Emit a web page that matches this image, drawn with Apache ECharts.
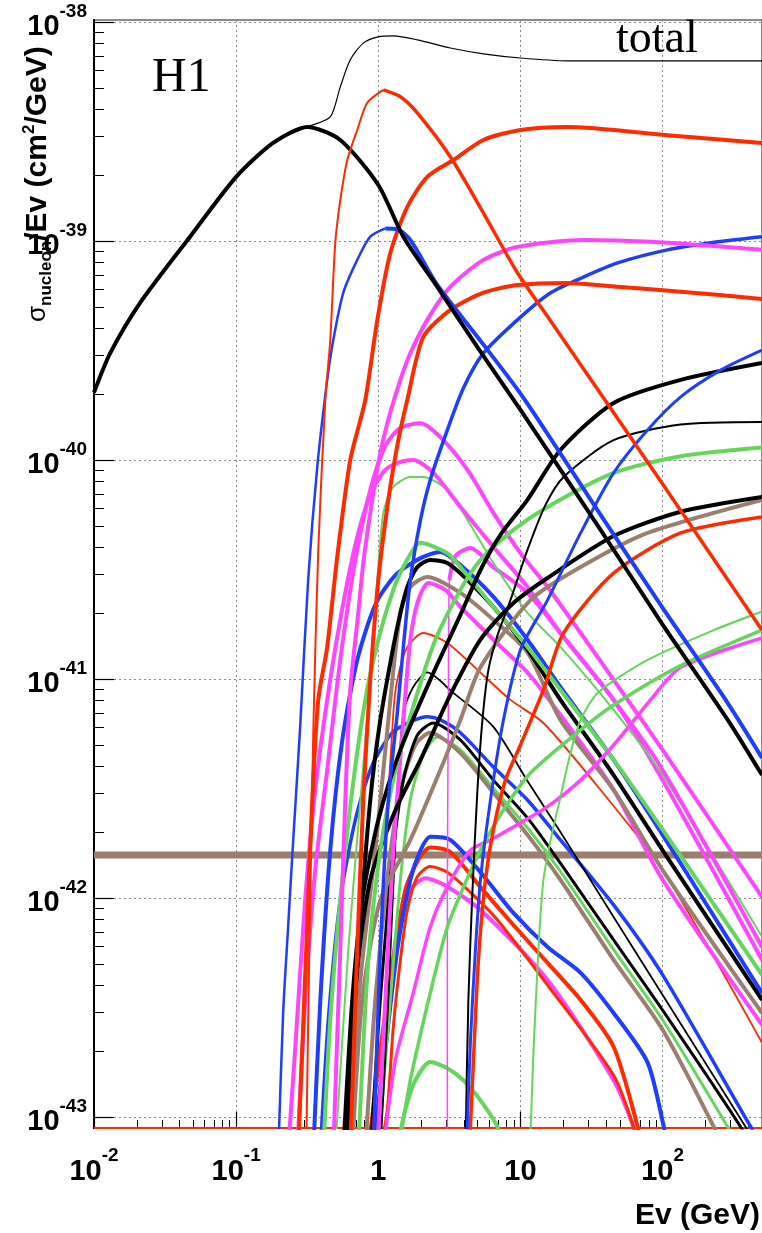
<!DOCTYPE html>
<html><head><meta charset="utf-8">
<script src="https://cdn.jsdelivr.net/npm/echarts@6.0.0/dist/echarts.min.js"></script>
<style>html,body{margin:0;padding:0;background:#fff}#c{width:762px;height:1233px}</style>
</head><body><div id="c"></div>
<script>
// E in GeV, sigma/E in cm^2/GeV
const xTickValues = [0.01, 0.1, 1, 10, 100];
const xTickLabels = ['10|-2', '10|-1', '1', '10', '10|2'];
const yTickExponents = [-38, -39, -40, -41, -42, -43];
const X_MIN = 0.01, X_MAX = 500, Y_MIN = 8.9e-44, Y_MAX = 1.02e-38;

const totalXsec = [[0.01,2.03e-40],[0.013,3.07e-40],[0.0211,5.21e-40],[0.0474,1.045e-39],[0.1,1.96e-39],[0.182,2.80e-39],[0.316,3.31e-39],[0.459,3.68e-39],[0.54,5.05e-39],[0.635,6.71e-39],[0.784,8.0e-39],[1,8.54e-39],[1.275,8.63e-39],[1.88,8.28e-39],[3.21,7.6e-39],[5.49,7.15e-39],[10,6.84e-39],[21.4,6.64e-39],[100,6.64e-39],[500,6.64e-39]];
const qe = [[0.01,2.03e-40],[0.013,3.07e-40],[0.0211,5.21e-40],[0.0474,1.045e-39],[0.1,1.96e-39],[0.182,2.80e-39],[0.316,3.31e-39],[0.54,2.89e-39],[1,1.80e-39],[1.5,1.045e-39],[2.6,6.17e-40],[4.98,3.27e-40],[10,1.69e-40],[36.6,4.79e-41],[100,1.77e-41],[287,6.50e-42],[500,3.64e-42]];
const resRedRise = [[0.311,7e-44],[0.327,5.8e-43],[0.349,5.85e-42],[0.378,3.88e-41],[0.424,1.88e-40],[0.459,3.52e-40],[0.498,9.79e-40],[0.54,1.53e-39],[0.605,2.34e-39],[0.711,3.21e-39],[0.836,4.27e-39],[1.084,4.89e-39]];
const resRedFall = [[1.084,4.89e-39],[1.43,4.55e-39],[1.88,3.84e-39],[3.21,2.42e-39],[5.49,1.34e-39],[9.52,7.15e-40],[16.3,4.31e-40],[27.8,2.60e-40],[100,7.76e-41],[500,1.67e-41]];
const resBlueRise = [[0.198,7e-44],[0.214,2.98e-43],[0.232,7.36e-43],[0.252,1.84e-42],[0.282,6.04e-42],[0.321,2.83e-41],[0.372,9.29e-41],[0.437,2.32e-40],[0.482,3.52e-40],[0.567,5.80e-40],[0.711,8.19e-40],[0.878,1.045e-39],[1.12,1.14e-39]];
const resBlueFall = [[1.12,1.14e-39],[1.36,1.13e-39],[1.68,1.01e-39],[2.60,6.29e-40],[5.49,3.36e-40],[10.5,1.92e-40],[36.6,5.61e-41],[100,2.11e-41],[287,7.76e-42],[500,4.36e-42]];
const disRed1 = [[0.273,7e-44],[0.311,5.80e-43],[0.343,2.80e-42],[0.378,8.02e-42],[0.437,1.40e-41],[0.514,3.60e-41],[0.635,1.0e-40],[0.81,1.88e-40],[0.984,4.36e-40],[1.215,8.81e-40],[1.60,1.43e-39],[2.21,1.96e-39],[3.37,2.34e-39],[5.49,2.89e-39],[10,3.21e-39],[21.4,3.31e-39],[108,3.04e-39],[500,2.80e-39]];
const disMagenta = [[0.482,7e-44],[0.54,5.80e-43],[0.586,2.80e-42],[0.635,8.9e-42],[0.723,2.0e-41],[0.784,3.38e-41],[0.878,5.73e-41],[1,9.69e-41],[1.157,1.47e-40],[1.43,2.32e-40],[1.68,3.07e-40],[2.21,4.36e-40],[3.21,6.17e-40],[5.49,8.19e-40],[9.52,9.39e-40],[27.8,1.01e-39],[82.3,9.9e-40],[500,9.1e-40]];
const disRed2 = [[0.635,7e-44],[0.711,5.80e-43],[0.784,2.80e-42],[0.878,9.9e-42],[1,2.83e-41],[1.176,6.57e-41],[1.383,1.23e-40],[1.60,1.88e-40],[2.07,3.64e-40],[3.21,4.84e-40],[5.49,5.80e-40],[9.52,6.29e-40],[21.4,6.43e-40],[48.2,6.17e-40],[141,5.85e-40],[500,5.43e-40]];
const disBlue1 = [[0.922,7e-44],[1.033,5.8e-43],[1.176,2.8e-42],[1.36,7.0e-42],[1.5,1.40e-41],[1.68,2.83e-41],[1.98,5.32e-41],[2.32,8.1e-41],[3.06,1.37e-40],[3.97,2.13e-40],[5.49,3.07e-40],[9.52,4.36e-40],[16.3,5.80e-40],[27.8,6.84e-40],[48.2,7.93e-40],[108,9.1e-40],[244,9.9e-40],[500,1.045e-39]];
const disBlue2 = [[4.17,7e-44],[4.45,2.25e-43],[4.82,5.8e-43],[5.23,1.21e-42],[6.15,2.8e-42],[7.59,6.50e-42],[10,1.36e-41],[15.5,2.29e-41],[26.5,4.64e-41],[45.2,8.72e-41],[78.4,1.37e-40],[134,1.94e-40],[256,2.57e-40],[500,3.17e-40]];
const disBlack1 = [[0.567,7e-44],[0.656,3.42e-43],[0.771,9.8e-43],[1,2.27e-42],[1.43,4.74e-42],[2.32,9.9e-42],[3.78,1.96e-41],[5.23,3.14e-41],[7.23,4.55e-41],[11.2,6.57e-41],[19.1,1.11e-40],[45.2,1.82e-40],[134,2.32e-40],[500,2.77e-40]];
const disBlack2 = [[4.10,7e-44],[4.30,3.42e-43],[4.59,1.06e-42],[4.98,3.11e-42],[5.40,6.50e-42],[5.95,1.10e-41],[6.89,1.58e-41],[8.50,2.29e-41],[11.2,3.88e-41],[15.0,6.23e-41],[20.1,8.36e-41],[45.2,1.23e-40],[134,1.45e-40],[500,1.49e-40]];
const disGreen1 = [[0.723,7e-44],[0.85,5.21e-43],[1.033,1.65e-42],[1.32,3.84e-42],[1.82,8.02e-42],[2.52,1.51e-41],[3.78,2.55e-41],[5.23,3.49e-41],[8.92,4.79e-41],[15.5,6.10e-41],[45.2,8.72e-41],[134,1.04e-40],[500,1.14e-40]];
const disBlack3 = [[0.595,7e-44],[0.70,4.22e-43],[0.878,1.21e-42],[1.32,2.52e-42],[1.98,4.27e-42],[3.21,8.45e-42],[5.23,1.51e-41],[8.92,2.22e-41],[15.5,2.89e-41],[45.2,4.49e-41],[134,5.80e-41],[500,6.77e-41]];
const disBrown = [[0.656,7e-44],[0.771,3.42e-43],[1.033,9.8e-43],[1.68,1.84e-42],[2.73,3.84e-42],[3.78,6.50e-42],[5.23,1.13e-41],[11.76,2.29e-41],[26.5,3.24e-41],[78.4,4.64e-41],[500,6.57e-41]];
const disRed3 = [[4.37,7e-44],[4.67,1.82e-43],[5.06,5.21e-43],[5.67,1.21e-42],[6.45,2.05e-42],[7.84,3.45e-42],[10,4.99e-42],[14.5,8.9e-42],[20.1,1.62e-41],[45.2,3.04e-41],[134,4.64e-41],[500,5.49e-41]];
const disGreen2 = [[11.6,7e-44],[12.0,1.19e-43],[12.3,1.88e-43],[13.4,5.97e-43],[14.5,1.21e-42],[16.3,1.84e-42],[19.1,2.89e-42],[22.5,4.59e-42],[26.5,6.50e-42],[34.9,8.63e-42],[78.4,1.22e-41],[229,1.67e-41],[500,2.03e-41]];
const disGreen3 = [[1.383,7e-44],[1.68,1.47e-43],[2.32,3.68e-43],[3.06,7.36e-43],[3.97,1.12e-42],[5.23,1.65e-42],[7.59,2.52e-42],[11.76,3.72e-42],[26.5,5.85e-42],[45.2,7.60e-42],[134,1.15e-41],[500,1.67e-41]];
const disMagenta2 = [[1.084,7e-44],[1.32,1.82e-43],[1.76,3.68e-43],[2.32,7.36e-43],[3.06,1.12e-42],[4.45,1.65e-42],[6.15,1.84e-42],[8.92,2.11e-42],[15.5,2.61e-42],[26.5,3.45e-42],[45.2,4.99e-42],[82.3,8.02e-42],[134,1.13e-41],[500,1.54e-41]];
const pkMagenta1 = [[0.269,7e-44],[0.306,3.42e-43],[0.36,1.34e-42],[0.437,3.84e-42],[0.54,1.22e-41],[0.689,3.49e-41],[0.878,7.29e-41],[1.12,1.16e-40],[1.43,1.40e-40],[1.98,1.47e-40],[2.73,1.27e-40],[4.24,9.0e-41],[6.45,5.73e-41],[10,3.75e-41],[15.5,2.63e-41],[26.5,1.62e-41],[45.2,9.9e-42],[100,4.74e-42],[500,1.01e-42]];
const pkMagenta2 = [[0.232,7e-44],[0.26,2.03e-43],[0.306,9.8e-43],[0.36,3.11e-42],[0.437,8.02e-42],[0.54,1.86e-41],[0.689,4.09e-41],[0.878,6.93e-41],[1.12,9.0e-41],[1.43,9.79e-41],[1.76,1.0e-40],[2.44,8.72e-41],[3.78,6.10e-41],[6.45,4.0e-41],[11.2,2.63e-41],[19.1,1.62e-41],[45.2,8.02e-42],[100,3.84e-42],[500,5.97e-43]];
const pkGreen1 = [[0.498,7e-44],[0.615,5.8e-43],[0.748,2.8e-42],[0.878,9.9e-42],[0.984,2.83e-41],[1.084,5.73e-41],[1.275,7.52e-41],[1.68,8.36e-41],[2.07,8.36e-41],[3.06,7.29e-41],[4.24,5.32e-41],[6.45,3.38e-41],[11.2,2.0e-41],[19.1,1.40e-41],[45.2,7.22e-42],[100,3.64e-42],[500,6.64e-43]];
const pkGreen2 = [[0.41,7e-44],[0.459,2.77e-43],[0.54,9.8e-43],[0.656,3.11e-42],[0.81,8.02e-42],[1,1.51e-41],[1.275,2.55e-41],[1.55,3.38e-41],[1.98,4.18e-41],[3.06,3.75e-41],[3.78,3.24e-41],[6.45,2.13e-41],[11.2,1.40e-41],[19.1,8.9e-42],[45.2,4.27e-42],[100,2.05e-42],[500,4.45e-43]];
const pkBlack1 = [[0.586,7e-44],[0.723,5.8e-43],[0.878,2.8e-42],[1.033,6.5e-42],[1.275,1.40e-41],[1.43,2.0e-41],[1.60,2.63e-41],[1.88,3.24e-41],[2.32,3.49e-41],[3.06,3.38e-41],[4.24,2.83e-41],[6.45,2.13e-41],[11.2,1.36e-41],[19.1,8.02e-42],[45.2,3.64e-42],[100,1.65e-42],[500,3.42e-43]];
const pkBlue1 = [[0.349,7e-44],[0.391,3.42e-43],[0.459,1.65e-42],[0.558,5.26e-42],[0.711,1.22e-41],[0.952,2.18e-41],[1.32,2.98e-41],[1.98,3.56e-41],[2.73,3.80e-41],[3.78,3.31e-41],[6.45,2.37e-41],[11.2,1.51e-41],[19.1,9.19e-42],[45.2,4.27e-42],[100,1.94e-42],[500,3.68e-43]];
const pkBrown1 = [[0.615,7e-44],[0.748,4.22e-43],[0.952,1.65e-42],[1.215,8.0e-42],[1.43,2.0e-41],[1.68,2.63e-41],[2.21,2.92e-41],[3.78,2.47e-41],[6.45,1.86e-41],[11.2,1.32e-41],[19.1,6.50e-42],[45.2,3.11e-42],[100,1.34e-42],[500,2.98e-43]];
const pkMagenta3 = [[0.984,7e-44],[1.12,3.42e-43],[1.275,1.65e-42],[1.5,6.5e-42],[1.68,1.51e-41],[1.91,2.29e-41],[2.25,2.74e-41],[2.96,2.55e-41],[3.78,2.13e-41],[6.45,1.51e-41],[11.2,1.07e-41],[19.1,6.84e-42],[45.2,3.11e-42],[100,1.21e-42],[500,2.63e-43]];
const spikeMagenta = [[3.06,7e-44],[3.06,9.8e-43],[3.11,8.0e-42],[3.16,2.83e-41],[3.49,3.64e-41]];
const pkMagenta4 = [[3.16,2.83e-41],[3.49,3.64e-41],[4.45,3.96e-41],[6.45,3.24e-41],[11.2,2.47e-41],[19.1,1.62e-41],[45.2,8.02e-42],[100,3.45e-42],[500,5.21e-43]];
const pkRedThin = [[0.906,7e-44],[1,3.42e-43],[1.12,1.65e-42],[1.275,7.0e-42],[1.36,9.9e-42],[1.60,1.40e-41],[2.07,1.62e-41],[3.06,1.46e-41],[4.98,1.10e-41],[8.50,8.02e-42],[14.5,6.29e-42],[36.6,3.11e-42],[100,1.34e-42],[500,2.18e-43]];
const pkBlackThin = [[1.033,7e-44],[1.176,3.42e-43],[1.36,2.8e-42],[1.5,7.0e-42],[1.76,9.19e-42],[2.21,1.07e-41],[3.37,8.63e-42],[6.45,6.04e-42],[11.2,3.42e-42],[19.1,2.0e-42],[45.2,8.19e-43],[100,3.60e-43],[384,9.0e-44],[490,7e-44]];
const lowBlue1 = [[0.391,7e-44],[0.445,2.77e-43],[0.54,9.8e-43],[0.689,2.27e-42],[0.906,4.04e-42],[1.255,5.68e-42],[1.68,6.36e-42],[2.21,6.71e-42],[2.73,6.50e-42],[3.78,5.68e-42],[6.45,3.96e-42],[11.2,2.80e-42],[19.1,1.84e-42],[45.2,9.29e-43],[100,4.45e-43],[417,9.0e-44],[500,7.5e-44]];
const lowBlack1 = [[0.878,7e-44],[1.033,3.42e-43],[1.255,1.49e-42],[1.5,3.45e-42],[1.88,5.53e-42],[2.44,6.29e-42],[3.78,5.26e-42],[6.45,3.45e-42],[11.2,2.32e-42],[19.1,1.44e-42],[45.2,6.43e-43],[100,3.07e-43],[354,9.0e-44],[465,6.4e-44]];
const lowBrown1 = [[0.81,7e-44],[0.952,3.42e-43],[1.176,1.34e-42],[1.43,3.11e-42],[1.82,4.99e-42],[2.32,5.68e-42],[3.78,4.59e-42],[6.45,3.02e-42],[11.2,1.94e-42],[19.1,1.21e-42],[45.2,5.21e-43],[100,2.50e-43],[229,9.0e-44],[287,6.4e-44]];
const lowGreen1 = [[1,7e-44],[1.215,3.42e-43],[1.43,1.21e-42],[1.68,2.8e-42],[2.07,4.49e-42],[2.60,5.43e-42],[3.78,4.74e-42],[6.45,3.17e-42],[11.2,2.09e-42],[19.1,1.32e-42],[45.2,5.8e-43],[100,2.77e-43],[287,9.0e-44],[384,6.4e-44]];
const lowBlue2 = [[0.906,7e-44],[1.12,2.03e-43],[1.36,5.8e-43],[1.68,1.21e-42],[1.98,1.65e-42],[2.32,1.90e-42],[3.21,1.84e-42],[5.23,1.31e-42],[8.92,8.54e-43],[15.5,5.97e-43],[26.5,4.55e-43],[45.2,2.98e-43],[78.4,1.77e-43],[102,9.0e-44],[114,6.4e-44]];
const lowRed1 = [[0.85,7e-44],[1.033,2.03e-43],[1.275,5.21e-43],[1.55,1.09e-42],[1.91,1.49e-42],[2.32,1.70e-42],[3.21,1.62e-42],[5.23,1.12e-42],[8.92,7.52e-43],[15.5,5.05e-43],[26.5,3.42e-43],[45.2,2.09e-43],[66.8,9.0e-44],[74.5,6.4e-44]];
const lowRed2 = [[1.033,7e-44],[1.157,1.08e-43],[1.275,2.57e-43],[1.43,5.21e-43],[1.60,8.81e-43],[1.88,1.25e-42],[2.32,1.39e-42],[3.06,1.31e-42],[4.45,1.06e-42],[6.89,7.93e-43],[15.5,4.0e-43],[45.2,1.55e-43],[62.4,9.0e-44],[70,6.4e-44]];
const lowMagenta1 = [[0.952,7e-44],[1.12,2.50e-43],[1.36,7.15e-43],[1.68,1.09e-42],[2.14,1.23e-42],[2.96,1.14e-42],[5.23,8.81e-43],[15.5,4.22e-43],[45.2,1.47e-43],[62.4,9.0e-44],[70,6.4e-44]];
const lowGreen2 = [[1.34,7e-44],[1.55,1.08e-43],[1.82,1.47e-43],[2.32,1.78e-43],[3.06,1.67e-43],[3.97,1.47e-43],[5.23,1.19e-43],[6.89,9.0e-44],[7.59,7e-44]];
const flatBrown = [[0.01,1.57e-42],[500,1.57e-42]];
const floorRed = [[0.01,8.9e-44],[500,8.9e-44]];

const C = {red:'#ff2a00', blue:'#1f3dff', magenta:'#ff44ff', green:'#64d65c', brown:'#9c7e6e', black:'#000000'};
const seriesDefs = [
  {d:floorRed, c:C.red, w:2},
  {d:flatBrown, c:C.brown, w:7},
  {d:lowGreen2, c:C.green, w:4},
  {d:lowMagenta1, c:C.magenta, w:4},
  {d:lowRed2, c:C.red, w:3},
  {d:lowRed1, c:C.red, w:4},
  {d:lowBlue2, c:C.blue, w:4},
  {d:lowGreen1, c:C.green, w:3},
  {d:lowBrown1, c:C.brown, w:4},
  {d:lowBlack1, c:C.black, w:3},
  {d:lowBlue1, c:C.blue, w:3.5},
  {d:pkBlackThin, c:C.black, w:1.8},
  {d:pkRedThin, c:C.red, w:1.8},
  {d:spikeMagenta, c:C.magenta, w:1.5},
  {d:pkMagenta4, c:C.magenta, w:4},
  {d:pkMagenta3, c:C.magenta, w:4},
  {d:pkBrown1, c:C.brown, w:4},
  {d:pkBlue1, c:C.blue, w:4},
  {d:pkBlack1, c:C.black, w:4},
  {d:pkGreen2, c:C.green, w:4},
  {d:pkGreen1, c:C.green, w:2},
  {d:pkMagenta2, c:C.magenta, w:4},
  {d:pkMagenta1, c:C.magenta, w:4},
  {d:disMagenta2, c:C.magenta, w:3.5},
  {d:disGreen3, c:C.green, w:3.5},
  {d:disGreen2, c:C.green, w:2},
  {d:disRed3, c:C.red, w:3.5},
  {d:disBrown, c:C.brown, w:4},
  {d:disBlack3, c:C.black, w:4},
  {d:disGreen1, c:C.green, w:4},
  {d:disBlack2, c:C.black, w:2},
  {d:disBlack1, c:C.black, w:4},
  {d:disBlue2, c:C.blue, w:3},
  {d:disBlue1, c:C.blue, w:3.5},
  {d:disRed2, c:C.red, w:4},
  {d:disMagenta, c:C.magenta, w:4},
  {d:disRed1, c:C.red, w:4},
  {d:resBlueRise, c:C.blue, w:2.5},
  {d:resBlueFall, c:C.blue, w:4},
  {d:qe, c:C.black, w:4},
  {d:resRedRise, c:C.red, w:2},
  {d:resRedFall, c:C.red, w:3.5},
  {d:totalXsec, c:C.black, w:1.2}
];

// numeric safety: plot sigma in units of 1e-38
const U = 1e38;
const yMajor = yTickExponents.map(e => Math.pow(10, e + 38));
const xMinor = [], yMinor = [];
for (let k = -2; k <= 2; k++) for (let m = 2; m <= 9; m++) { const v = m * Math.pow(10, k); if (v < X_MAX) xMinor.push(v); }
for (let k = -6; k <= 0; k++) for (let m = 2; m <= 9; m++) { const v = m * Math.pow(10, k); if (v > Y_MIN * U && v < Y_MAX * U) yMinor.push(v); }

const rich = {
  b: {fontFamily:'Liberation Sans, Arial, sans-serif', fontWeight:'bold', fontSize:29, color:'#000', lineHeight:40, verticalAlign:'bottom'},
  s: {fontFamily:'Liberation Sans, Arial, sans-serif', fontWeight:'bold', fontSize:19, color:'#000', lineHeight:20, verticalAlign:'top'}
};
function fmtLabel(str) { const p = str.split('|'); return p.length > 1 ? '{b|' + p[0] + '}{s|' + p[1] + '}' : '{b|' + p[0] + '}'; }
function fmtX(v) { const i = xTickValues.findIndex(t => Math.abs(Math.log10(t) - Math.log10(v)) < 1e-6); return i < 0 ? '' : fmtLabel(xTickLabels[i]); }
function fmtY(v) { const e = Math.round(Math.log10(v)) - 38; return fmtLabel('10|' + e); }

const gridLine = {show:true, lineStyle:{color:'#8a8a8a', width:1, type:[2,3]}};
const chart = echarts.init(document.getElementById('c'), null, {renderer:'canvas'});
chart.setOption({
  animation:false,
  backgroundColor:'#fff',
  grid:{left:94, right:0, top:20, bottom:105, show:true, borderColor:'#666', borderWidth:1.5, backgroundColor:'transparent'},
  xAxis:[
    {type:'log', logBase:10, min:X_MIN, max:X_MAX, position:'bottom',
     axisLine:{show:true, onZero:false, lineStyle:{color:'#000', width:2}},
     axisTick:{show:true, inside:true, length:16, customValues:xTickValues, lineStyle:{color:'#000', width:1.2}},
     axisLabel:{show:true, customValues:xTickValues, formatter:fmtX, margin:18, rich:rich},
     splitLine:gridLine},
    {type:'log', logBase:10, min:X_MIN, max:X_MAX, position:'bottom',
     axisLine:{show:false}, axisLabel:{show:false}, splitLine:{show:false},
     axisTick:{show:true, inside:true, length:8, customValues:xMinor, lineStyle:{color:'#000', width:1}}}
  ],
  yAxis:[
    {type:'log', logBase:10, min:Y_MIN*U, max:Y_MAX*U, position:'left',
     axisLine:{show:true, onZero:false, lineStyle:{color:'#000', width:2}},
     axisTick:{show:true, inside:true, length:20, customValues:yMajor, lineStyle:{color:'#000', width:1.2}},
     axisLabel:{show:true, customValues:yMajor, formatter:fmtY, margin:7, rich:rich},
     splitLine:gridLine},
    {type:'log', logBase:10, min:Y_MIN*U, max:Y_MAX*U, position:'left',
     axisLine:{show:false}, axisLabel:{show:false}, splitLine:{show:false},
     axisTick:{show:true, inside:true, length:10, customValues:yMinor, lineStyle:{color:'#000', width:1}}}
  ],
  series: seriesDefs.map((s, i) => ({
    type:'line', xAxisIndex:0, yAxisIndex:0, silent:true, showSymbol:false, symbol:'none',
    data: s.d.map(p => [p[0], p[1] * U]),
    smooth: 0.25,
    lineStyle:{color:s.c, width:s.w, join:'round'}, itemStyle:{color:s.c}, z: 2 + i * 0.01, clip:true
  })),
  graphic:[
    {type:'text', x:152, y:78, z:10, style:{text:'H1', fontFamily:'Liberation Serif, Times New Roman, serif', fontSize:48, fill:'#000', verticalAlign:'middle', align:'left'}},
    {type:'text', x:616, y:40, z:10, style:{text:'total', fontFamily:'Liberation Serif, Times New Roman, serif', fontSize:46, fill:'#000', verticalAlign:'middle', align:'left'}},
    {type:'text', x:760, y:1216, z:10, style:{text:'Ev (GeV)', fontFamily:'Liberation Sans, Arial, sans-serif', fontWeight:'bold', fontSize:30, fill:'#000', verticalAlign:'middle', align:'right'}},
    {type:'text', x:38, y:322, rotation:Math.PI/2, z:-1, style:{
      text:'{g|σ}{sub|nucleon}{t|/Ev (cm}{sup|2}{t|/GeV)}', align:'left', verticalAlign:'middle',
      rich:{
        g:{fontFamily:'Liberation Sans, Arial, sans-serif', fontSize:26, fill:'#000', lineHeight:34, verticalAlign:'middle'},
        sub:{fontFamily:'Liberation Sans, Arial, sans-serif', fontWeight:'bold', fontSize:17, fill:'#000', lineHeight:18, verticalAlign:'bottom'},
        t:{fontFamily:'Liberation Sans, Arial, sans-serif', fontWeight:'bold', fontSize:30, fill:'#000', lineHeight:34, verticalAlign:'middle'},
        sup:{fontFamily:'Liberation Sans, Arial, sans-serif', fontWeight:'bold', fontSize:17, fill:'#000', lineHeight:18, verticalAlign:'top'}
      }}}
  ]
});
</script>
</body></html>
